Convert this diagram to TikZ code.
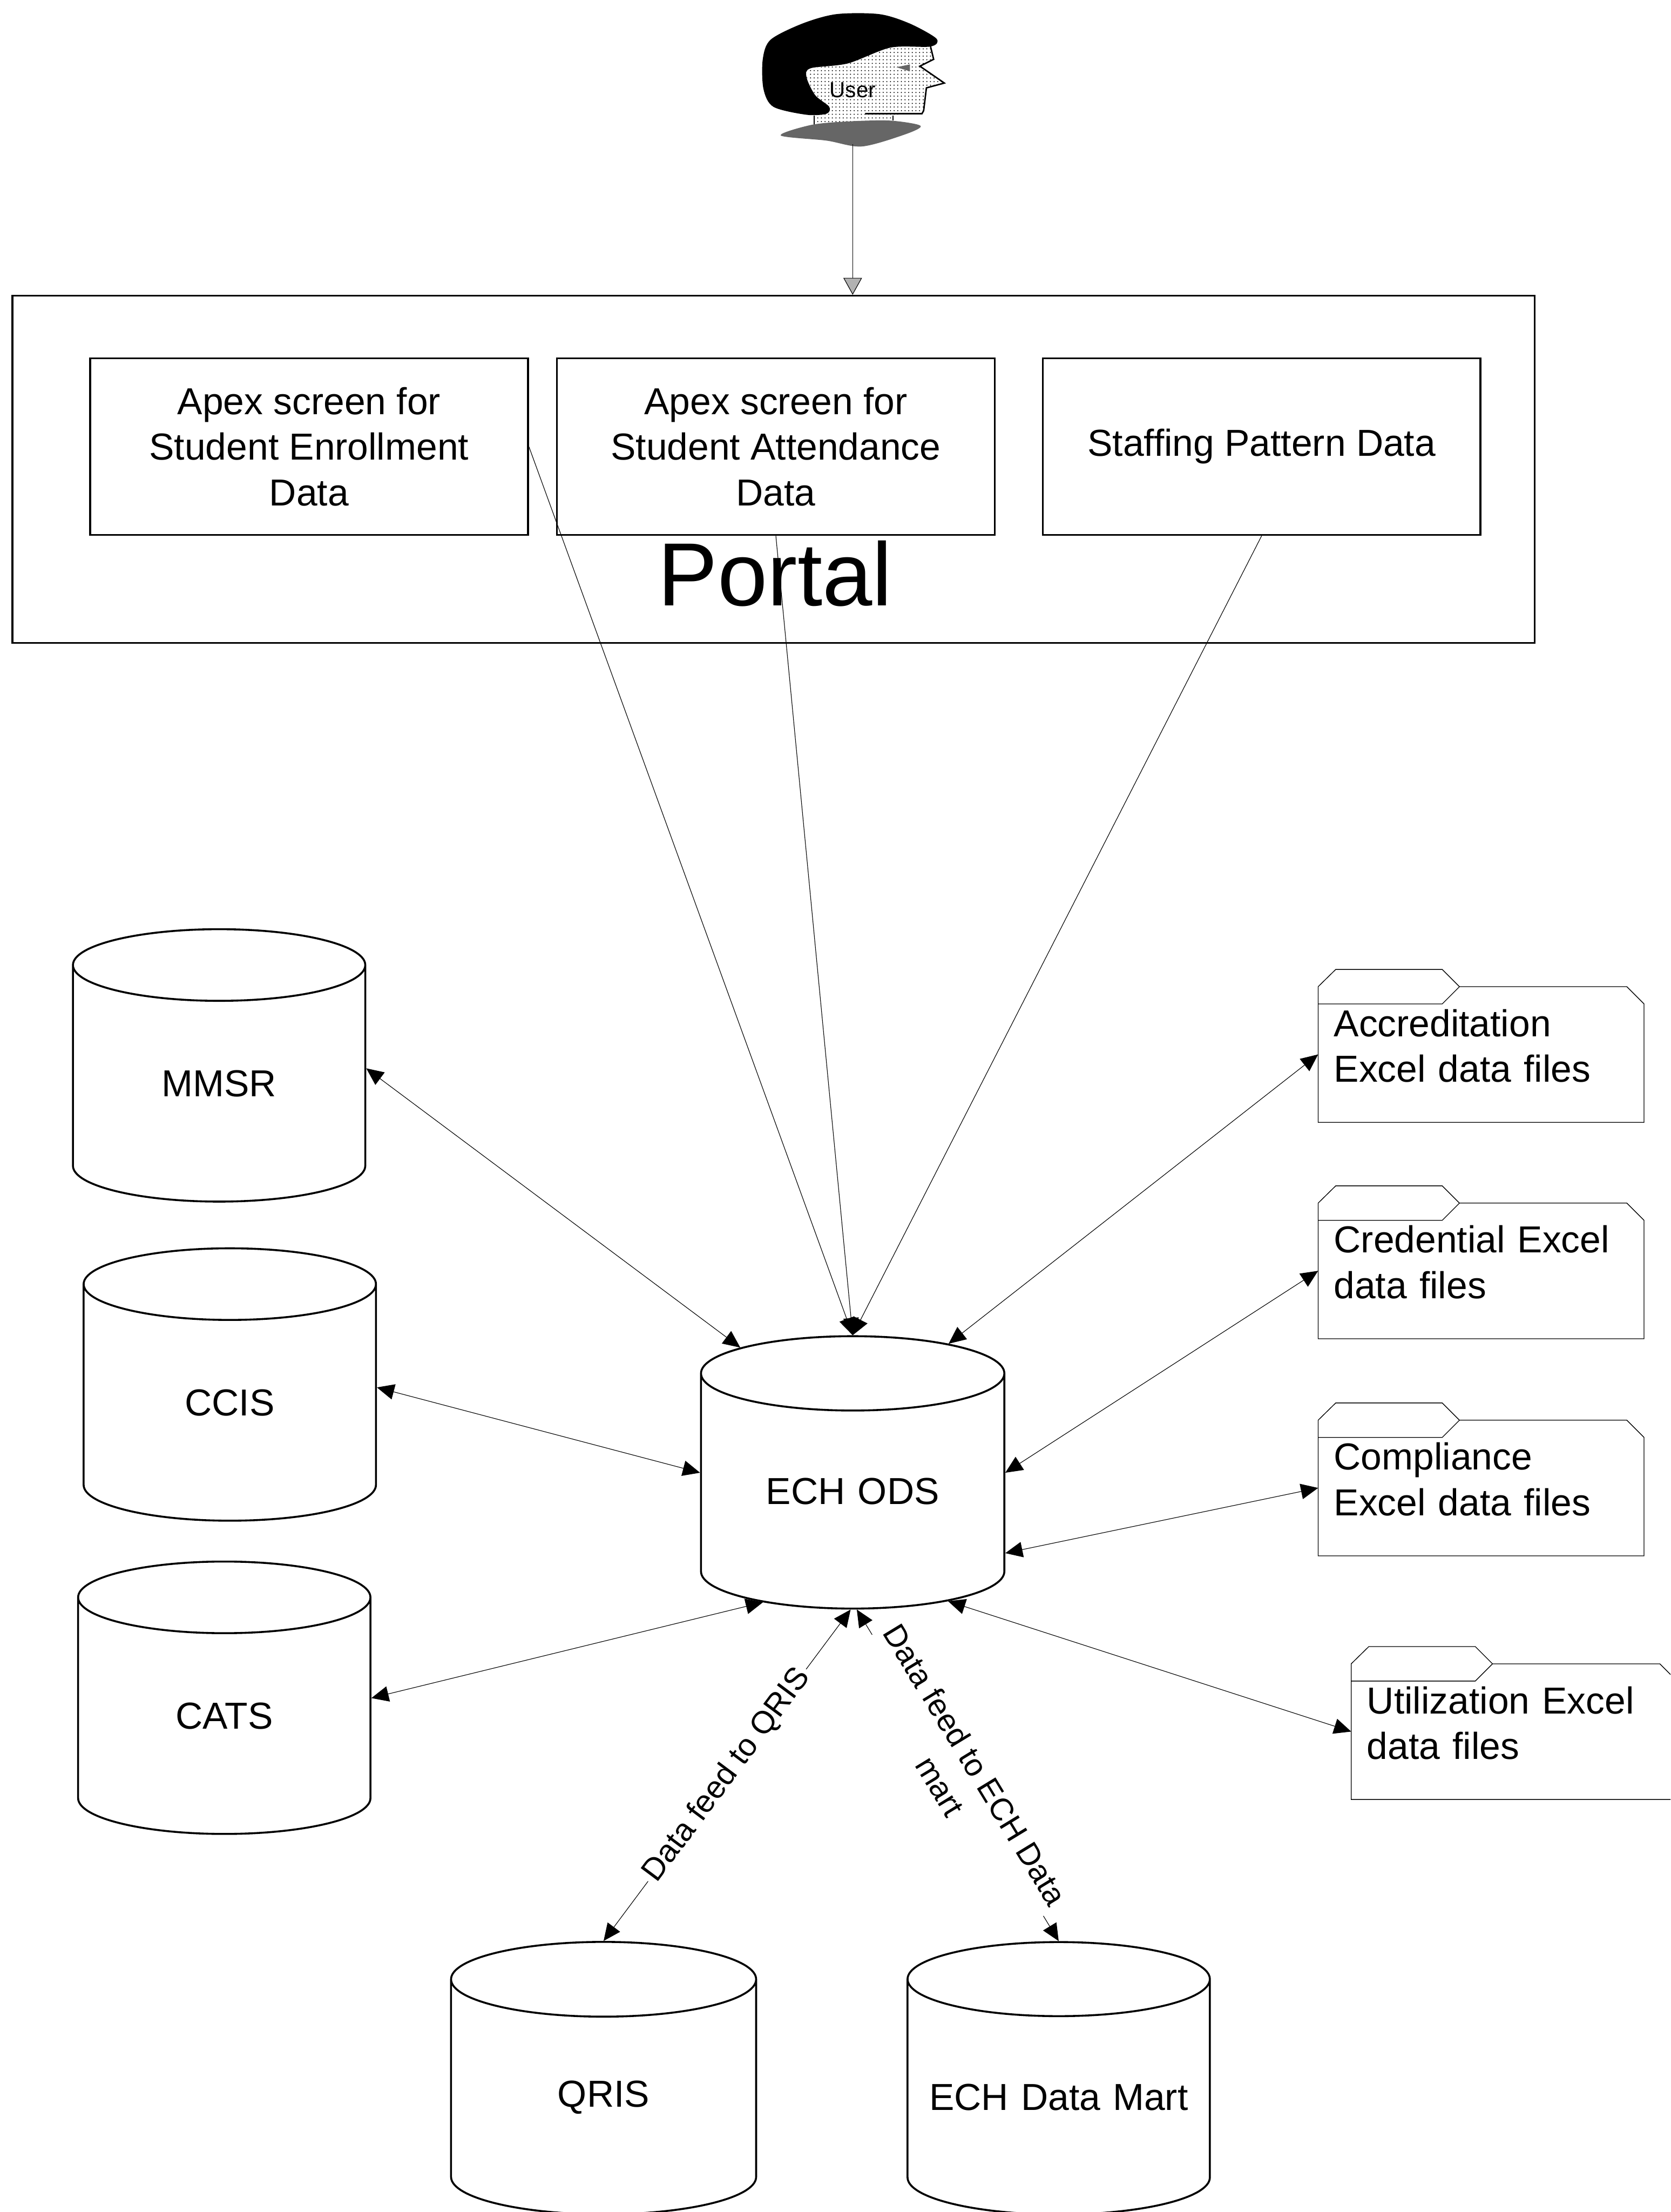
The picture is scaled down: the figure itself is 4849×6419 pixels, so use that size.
\documentclass[tikz,border=0pt]{standalone}
\usepackage{fontspec}
\setmainfont{Liberation Sans}
\usepackage{tikz}
\usetikzlibrary{shapes.geometric,arrows.meta,patterns}
\tikzstyle{db}=[cylinder, shape border rotate=90, aspect=.245, draw, line width=1.6pt, minimum height=79mm, inner sep=0pt, align=center, font=\fontsize{31}{38}\selectfont]
\tikzstyle{screen}=[draw, rectangle, line width=1.6pt, minimum width=127mm, minimum height=51.2mm, align=center, font=\fontsize{31}{37.8}\selectfont]
\tikzstyle{folder}=[rectangle, minimum width=94.4mm, minimum height=44.2mm, text width=85.4mm, inner xsep=4.5mm, align=left, font=\fontsize{31}{37.8}\selectfont]
\tikzstyle{link}=[line width=.5pt, {Triangle[length=5mm,width=4.5mm]}-{Triangle[length=5mm,width=4.5mm]}]
\tikzstyle{feed}=[line width=.5pt, -{Triangle[length=5mm,width=4.5mm]}]
\tikzstyle{l}=[sloped, fill=white, inner sep=1mm, align=center, font=\fontsize{26}{34}\selectfont]

\begin{document}
\begin{tikzpicture}[x=.01cm, y=-.01cm]
\useasboundingbox (0,0) rectangle (4849,6419);
\clip (0,0) rectangle (4849,6419);

% user head
\fill[pattern=dots] (2701,135) -- (2710,172) -- (2670,192) -- (2741,241) -- (2689,255) -- (2681,321)
  -- (2592,335) -- (2592,352) -- (2363,362) -- (2363,335) -- (2399,330) -- (2407,310) -- (2366,276)
  -- (2341,224) -- (2353,198) -- (2461,184) -- (2585,138) -- cycle;
\fill plot[smooth cycle] coordinates {(2237,115) (2330,68) (2428,41) (2552,41) (2640,68) (2718,112)
  (2701,135) (2585,138) (2461,184) (2353,198) (2341,224) (2366,276) (2407,310) (2399,330) (2341,333)
  (2245,310) (2216,258) (2214,172)};
\draw[line width=1.2pt] (2701,135) -- (2710,172) -- (2670,192) -- (2741,241) -- (2689,255)
  -- (2681,321) -- (2676,330) -- (2511,330);
\draw[line width=1.2pt] (2363,336) -- (2363,362) (2592,336) -- (2592,350);
\fill[black!60] plot[smooth cycle] coordinates {(2266,393) (2357,362) (2470,352)
  (2585,350) (2672,365) (2627,390) (2502,425) (2399,408)};
\fill[black!60] (2602,195) -- (2641,187) -- (2641,207) -- cycle;
\node[font=\fontsize{18}{22}\selectfont] (user) at (2475,261) {User};
\coordinate (userfoot) at (2475,419);

% portal and its screens
\node[draw, line width=1.6pt, minimum width=441.6mm, minimum height=100.7mm] (portal) at (2245,1362) {};
\node[font=\fontsize{74}{80}\selectfont] (portallbl) at (2250,1665) {Portal};
\foreach \n/\x/\t in {scr1/897/{Apex screen for\\Student Enrollment\\Data},
                      scr2/2252/{Apex screen for\\Student Attendance\\Data},
                      scr3/3662/{Staffing Pattern Data}}
  \node[screen] (\n) at (\x,1296) {\t};
\draw[line width=.5pt, -{Triangle[length=4.9mm,width=5.4mm,fill=gray!60]}] (userfoot) -- (userfoot |- portal.north);

% data stores
\foreach \n/\x/\y/\w/\t in {mmsr/636/3145/84.8/MMSR, ccis/667/4071/84.8/CCIS, cats/651/4980/84.8/CATS,
                           ods/2475/4328/88/ECH ODS, qris/1752/6086/88.5/QRIS, mart/3073/6086/87.7/ECH Data Mart}
  \node[db, text width=\w mm] (\n) at (\x,\y) {\t};

% excel files
\foreach \n/\x/\y/\t in {accr/4299/3035/{Accreditation\\Excel data files},
                         cred/4299/3663/{Credential Excel\\data files},
                         compl/4299/4293/{Compliance\\Excel data files},
                         util/4395/5000/{Utilization Excel\\data files}}
  \node[folder] (\n) at (\x,\y) {\t};
\foreach \f in {accr,cred,compl,util}
  \draw[line width=.6pt] (\f.south west) -- ([yshift=-5mm]\f.north west) -- ([xshift=5.1mm]\f.north west)
    -- ([xshift=36mm]\f.north west) -- ([xshift=41mm,yshift=-5mm]\f.north west)
    -- ([xshift=-5mm,yshift=-5mm]\f.north east) -- ([yshift=-10mm]\f.north east) -- (\f.south east) -- cycle
    ([yshift=-10mm]\f.north west) -- ([xshift=36mm,yshift=-10mm]\f.north west) -- ([xshift=41mm,yshift=-5mm]\f.north west);

% connectors
\foreach \s in {scr1.east, scr2.south, scr3.south}
  \draw[feed] (\s) -- (ods.north);
\foreach \a/\b in {mmsr.6/ods.128, ccis.6/ods.173, cats.7/ods.231, accr.183/ods.57,
                   cred.183/ods.7, compl.183/ods.338, util.183/ods.311}
  \draw[link] (\a) -- (\b);
\draw[link] (ods.269) -- node[l] {Data feed to QRIS} (qris.north);
\draw[link] (ods.272) -- node[l] {Data feed to ECH Data\\mart} (mart.north);
\end{tikzpicture}
\end{document}
